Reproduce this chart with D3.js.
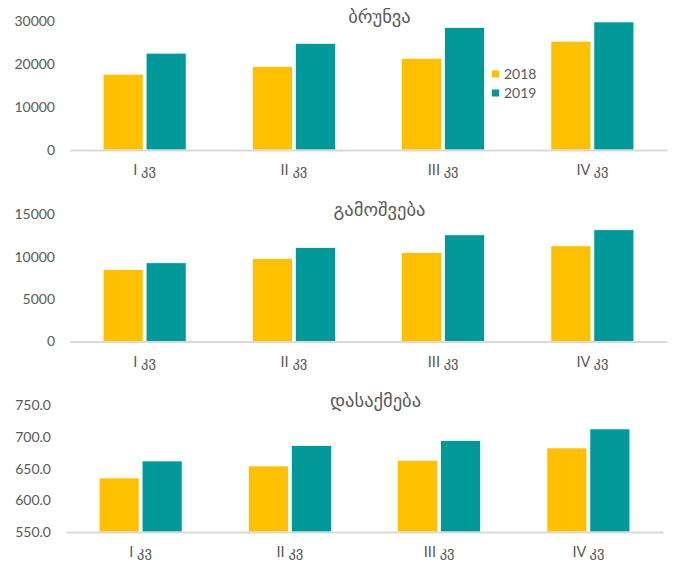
<!DOCTYPE html>
<html>
<head>
<meta charset="utf-8">
<script src="https://cdn.jsdelivr.net/npm/d3@7"></script>
<style>
  html, body { margin: 0; padding: 0; background: #fff; }
  svg { display: block; }
  text { font-family: Lato, "DejaVu Sans", sans-serif; fill: #595959; }
</style>
</head>
<body>
<svg id="chart" width="675" height="569"></svg>
<script>
// Quarterly indicators, 2018 vs 2019
const quarters = ["I კვ", "II კვ", "III კვ", "IV კვ"];
const years = ["2018", "2019"];
const yearColors = ["#FFC000", "#009999"];

const turnover2018 = [17700, 19500, 21400, 25400];
const turnover2019 = [22600, 24900, 28600, 29900];
const turnoverTicks = [0, 10000, 20000, 30000];

const output2018 = [8500, 9800, 10500, 11300];
const output2019 = [9300, 11100, 12600, 13200];
const outputTicks = [0, 5000, 10000, 15000];

const employment2018 = [635.4, 654.4, 663.4, 682.9];
const employment2019 = [662.3, 686.7, 694.6, 713.0];
const employmentTicks = [550, 600, 650, 700, 750];

const panels = [
  { title: "ბრუნვა", series: [turnover2018, turnover2019], ticks: turnoverTicks,
    fmt: d3.format("d"), left: 70, right: 667, bottom: 150, top: 21.5, legend: true },
  { title: "გამოშვება", series: [output2018, output2019], ticks: outputTicks,
    fmt: d3.format("d"), left: 70, right: 667, bottom: 341.5, top: 214.5, legend: false },
  { title: "დასაქმება", series: [employment2018, employment2019], ticks: employmentTicks,
    fmt: d3.format(".1f"), left: 66, right: 663, bottom: 532, top: 405.5, legend: false }
];

const svg = d3.select("#chart");

panels.forEach(p => {
  const g = svg.append("g");

  const x = d3.scaleBand()
    .domain(quarters)
    .range([p.left, p.right])
    .paddingInner(0.444)
    .paddingOuter(0.222);

  const xSub = d3.scaleBand()
    .domain(years)
    .range([0, x.bandwidth()])
    .paddingInner(0.07);

  const y = d3.scaleLinear()
    .domain(d3.extent(p.ticks))
    .range([p.bottom, p.top]);

  // value axis labels (no line, no ticks)
  const yAxis = g.append("g")
    .attr("transform", `translate(${p.left},0)`)
    .call(d3.axisLeft(y).tickValues(p.ticks).tickFormat(p.fmt).tickSize(0).tickPadding(15));
  yAxis.select(".domain").remove();
  yAxis.selectAll("text").style("font-size", "14px").attr("fill", "#595959");

  // bars
  years.forEach((yr, si) => {
    g.append("g").selectAll("rect")
      .data(quarters.map((q, i) => ({ q, v: p.series[si][i] })))
      .join("rect")
      .attr("x", d => x(d.q) + xSub(yr))
      .attr("width", xSub.bandwidth())
      .attr("y", d => y(d.v))
      .attr("height", d => y(y.domain()[0]) - y(d.v))
      .attr("fill", yearColors[si])
      .attr("stroke", "#fff")
      .attr("stroke-width", 0.75);
  });

  // category axis
  const xAxis = g.append("g")
    .attr("transform", `translate(0,${p.bottom})`)
    .call(d3.axisBottom(x).tickSize(0).tickPadding(0));
  xAxis.select(".domain").attr("stroke", "#d9d9d9").attr("stroke-width", 2);
  xAxis.selectAll("text")
    .attr("y", 25).attr("dy", null)
    .style("font-size", "14.5px").attr("fill", "#595959");

  // panel title
  g.append("text")
    .attr("x", (p.left + p.right) / 2 + 11)
    .attr("y", p.top + 1)
    .attr("text-anchor", "middle")
    .style("font-size", "18.5px")
    .text(p.title);

  // legend
  if (p.legend) {
    const lg = g.append("g").attr("transform", "translate(492,74)");
    years.forEach((yr, i) => {
      const row = lg.append("g").attr("transform", `translate(0,${i * 19})`);
      row.append("rect").attr("x", 0).attr("y", -3.5).attr("width", 7).attr("height", 7)
        .attr("fill", yearColors[i]);
      row.append("text").attr("x", 12).attr("y", 0).attr("dy", "0.35em")
        .style("font-size", "14px").text(yr);
    });
  }
});
</script>
</body>
</html>
